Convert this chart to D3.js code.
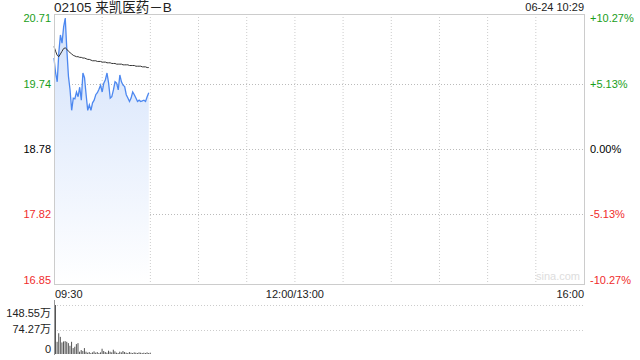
<!DOCTYPE html>
<html>
<head>
<meta charset="utf-8">
<script src="https://cdn.jsdelivr.net/npm/d3@7"></script>
<style>
  body { margin: 0; background: #fff; }
  svg text { font-family: "Liberation Sans", Arial, "Noto Sans CJK SC", sans-serif; font-size: 11px; }
</style>
</head>
<body>
<script>
const title = '02105 来凯医药－B';
const stamp = '06-24 10:29';
const prevClose = 18.78;
const priceTicks = [20.71, 19.74, 18.78, 17.82, 16.85];
const pctTicks = ['+10.27%', '+5.13%', '0.00%', '-5.13%', '-10.27%'];
const volTicks = [148.55, 74.27, 0];
const volTickLabels = ['148.55万', '74.27万', '0'];
const timeLabels = ['09:30', '12:00/13:00', '16:00'];

// one value per minute from 09:30
const price = [20.12, 19.90, 19.77, 20.20, 20.46, 20.34, 20.58, 20.71, 20.24, 19.85,
  19.65, 19.35, 19.53, 19.52, 19.62, 19.55, 19.69, 19.50, 19.90, 19.83,
  19.58, 19.35, 19.43, 19.35, 19.46, 19.50, 19.58, 19.61, 19.66, 19.72,
  19.62, 19.75, 19.80, 19.90, 19.75, 19.53, 19.55, 19.65, 19.77, 19.75,
  19.65, 19.87, 19.77, 19.72, 19.70, 19.58, 19.53, 19.48, 19.53, 19.62,
  19.58, 19.53, 19.48, 19.50, 19.48, 19.49, 19.50, 19.48, 19.55, 19.61];
const avgPrice = [20.29, 20.22, 20.16, 20.14, 20.18, 20.22, 20.26, 20.27, 20.25, 20.22,
  20.20, 20.18, 20.16, 20.15, 20.14, 20.14, 20.13, 20.13, 20.12, 20.12,
  20.11, 20.10, 20.10, 20.09, 20.08, 20.08, 20.08, 20.07, 20.07, 20.07,
  20.06, 20.06, 20.06, 20.05, 20.05, 20.05, 20.04, 20.04, 20.04, 20.03,
  20.03, 20.03, 20.03, 20.02, 20.02, 20.02, 20.02, 20.01, 20.01, 20.01,
  20.01, 20.00, 20.00, 20.00, 20.00, 19.99, 19.99, 19.99, 19.98, 19.98];
const volume = [148.5, 37, 63, 52, 35, 38, 39, 37, 33, 25,
  37, 18, 22, 30, 33, 7, 12, 9, 18, 7,
  4, 6, 3, 5, 8, 4, 6, 3, 5, 16,
  9, 6, 4, 10, 7, 5, 13, 8, 4, 3,
  7, 5, 9, 6, 4, 3, 6, 4, 3, 5,
  4, 3, 5, 4, 3, 4, 3, 5, 3, 4];

const W = 640, H = 360;
const pL = 54, pR = 584, pT = 14, pB = 284;
const volTop = 305, volBottom = 354;
const totalMin = 330;

const svg = d3.select('body').append('svg').attr('width', W).attr('height', H);

const x = d3.scaleLinear().domain([0, totalMin]).range([pL, pR]);
const y = d3.scaleLinear().domain([16.85, 20.71]).range([280, 18]);
const yv = d3.scaleLinear().domain([0, 148.55]).range([volBottom, volTop]);

const green = '#1a9e1a', red = '#f02c2c';
const colorFor = v => (v > prevClose ? green : v < prevClose ? red : '#000');

// gradient under price
const defs = svg.append('defs');
const grad = defs.append('linearGradient').attr('id', 'fillGrad')
  .attr('x1', 0).attr('y1', 0).attr('x2', 0).attr('y2', 1);
grad.append('stop').attr('offset', '0%').attr('stop-color', '#d3e2fb');
grad.append('stop').attr('offset', '100%').attr('stop-color', '#ffffff');

// grid
const g = svg.append('g');
d3.range(30, totalMin, 30).forEach(m => {
  g.append('line').attr('x1', x(m)).attr('x2', x(m)).attr('y1', pT).attr('y2', pB)
    .attr('stroke', '#ccc').attr('stroke-dasharray', '1,2');
});
priceTicks.slice(1, 4).forEach(p => {
  g.append('line').attr('x1', pL).attr('x2', pR).attr('y1', Math.round(y(p)) + 0.5).attr('y2', Math.round(y(p)) + 0.5)
    .attr('stroke', '#bbb').attr('stroke-dasharray', '1,2');
});

// area + lines
svg.append('path').datum(price)
  .attr('fill', 'url(#fillGrad)')
  .attr('d', d3.area().x((d, i) => x(i)).y0(pB).y1(d => y(d)));
svg.append('path').datum(price)
  .attr('fill', 'none').attr('stroke', '#4d88f0').attr('stroke-width', 1.3)
  .attr('d', d3.line().x((d, i) => x(i)).y(d => y(d)));
svg.append('path').datum(avgPrice)
  .attr('fill', 'none').attr('stroke', '#333').attr('stroke-width', 1)
  .attr('d', d3.line().x((d, i) => x(i)).y(d => y(d)));

// frame
svg.append('rect').attr('x', pL + 0.5).attr('y', pT + 0.5)
  .attr('width', pR - pL).attr('height', pB - pT)
  .attr('fill', 'none').attr('stroke', '#ccc');

// left/right labels
svg.selectAll('.pl').data(priceTicks).enter().append('text')
  .attr('x', pL - 3).attr('y', d => y(d)).attr('dy', '0.35em')
  .attr('text-anchor', 'end').attr('fill', d => colorFor(d))
  .text(d => d.toFixed(2));
svg.selectAll('.pr').data(pctTicks).enter().append('text')
  .attr('x', pR + 6).attr('y', (d, i) => y(priceTicks[i])).attr('dy', '0.35em')
  .attr('fill', (d, i) => colorFor(priceTicks[i]))
  .text(d => d);

// header
svg.append('text').attr('x', pL).attr('y', 12).style('font-size', '13.5px')
  .attr('fill', '#222').text(title);
svg.append('text').attr('x', pR).attr('y', 11).attr('text-anchor', 'end')
  .attr('fill', '#222').text(stamp);
svg.append('text').attr('x', pR - 4).attr('y', pB - 4).attr('text-anchor', 'end')
  .attr('fill', '#ddd').text('sina.com');

// time labels
const tx = [x(0) + 1, x(150), x(totalMin)];
const ta = ['start', 'middle', 'end'];
svg.selectAll('.tl').data(timeLabels).enter().append('text')
  .attr('x', (d, i) => tx[i]).attr('y', 298).attr('text-anchor', (d, i) => ta[i])
  .attr('fill', '#222').text(d => d);

// volume panel
volTicks.slice(0, 2).forEach(v => {
  svg.append('line').attr('x1', pL).attr('x2', pR)
    .attr('y1', Math.round(yv(v)) + 0.5).attr('y2', Math.round(yv(v)) + 0.5)
    .attr('stroke', '#ccc').attr('stroke-dasharray', '1,2');
});
svg.append('line').attr('x1', pL + 0.5).attr('x2', pL + 0.5).attr('y1', volTop - 5).attr('y2', volBottom + 1)
  .attr('stroke', '#999');
svg.selectAll('.vb').data(volume).enter().append('rect')
  .attr('x', (d, i) => x(i) + 1).attr('width', 1)
  .attr('y', d => yv(d)).attr('height', d => volBottom - yv(d))
  .attr('fill', '#555');
svg.selectAll('.vl').data(volTicks).enter().append('text')
  .attr('x', pL - 3).attr('y', d => Math.max(volTop + 8, Math.min(volBottom - 5, yv(d))))
  .attr('dy', '0.35em').attr('text-anchor', 'end').attr('fill', '#222')
  .text((d, i) => volTickLabels[i]);
</script>
</body>
</html>
